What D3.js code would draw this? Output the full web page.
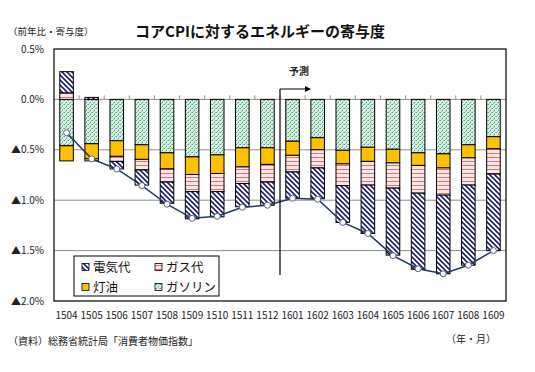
<!DOCTYPE html>
<html>
<head>
<meta charset="utf-8">
<script src="https://cdn.jsdelivr.net/npm/d3@7"></script>
<style>
  body { margin: 0; background: #fff; }
  svg { display: block; font-family: "Noto Sans CJK JP", "Noto Sans", sans-serif; }
</style>
</head>
<body>
<div id="chart"></div>
<script>
var categories = ['1504', '1505', '1506', '1507', '1508', '1509', '1510', '1511', '1512',
  '1601', '1602', '1603', '1604', '1605', '1606', '1607', '1608', '1609'];
// contributions (%pt)
var electricity = [0.21, 0.02, -0.075, -0.15, -0.21, -0.27, -0.25, -0.23, -0.23,
  -0.26, -0.305, -0.365, -0.48, -0.665, -0.755, -0.78, -0.795, -0.76];
var gas = [0.065, -0.02, -0.05, -0.105, -0.13, -0.17, -0.18, -0.165, -0.175,
  -0.165, -0.18, -0.215, -0.235, -0.25, -0.275, -0.27, -0.27, -0.25];
var kerosene = [-0.15, -0.15, -0.155, -0.145, -0.16, -0.175, -0.185, -0.19, -0.165,
  -0.14, -0.12, -0.135, -0.14, -0.135, -0.125, -0.14, -0.13, -0.12];
var gasoline = [-0.46, -0.44, -0.41, -0.45, -0.53, -0.57, -0.55, -0.48, -0.48,
  -0.415, -0.38, -0.505, -0.475, -0.495, -0.53, -0.54, -0.45, -0.37];
var energyTotal = [-0.33, -0.59, -0.69, -0.855, -1.04, -1.18, -1.16, -1.07, -1.05,
  -0.98, -0.99, -1.22, -1.33, -1.55, -1.68, -1.73, -1.645, -1.50];
var yTicks = [0.5, 0, -0.5, -1.0, -1.5, -2.0];
var forecastStart = '1601';

(function () {
  var W = 535, H = 372;
  var pl = 54, pr = 506, pt = 49, pb = 301;

  var svg = d3.select('#chart').append('svg').attr('width', W).attr('height', H);
  var defs = svg.append('defs');

  // hatch patterns
  var pElec = defs.append('pattern').attr('id', 'p-elec').attr('patternUnits', 'userSpaceOnUse')
    .attr('width', 5).attr('height', 5);
  pElec.append('rect').attr('width', 5).attr('height', 5).attr('fill', '#fff');
  pElec.append('path').attr('d', 'M0,0L5,5M-1.25,3.75L1.25,6.25M3.75,-1.25L6.25,1.25')
    .attr('stroke', '#1f1f6b').attr('stroke-width', 1.6);

  var pGas = defs.append('pattern').attr('id', 'p-gas').attr('patternUnits', 'userSpaceOnUse')
    .attr('width', 4).attr('height', 4);
  pGas.append('rect').attr('width', 4).attr('height', 4).attr('fill', '#fde6e6');
  pGas.append('rect').attr('y', 1).attr('width', 4).attr('height', 1).attr('fill', '#e57373');

  var pGaso = defs.append('pattern').attr('id', 'p-gaso').attr('patternUnits', 'userSpaceOnUse')
    .attr('width', 4).attr('height', 4);
  pGaso.append('rect').attr('width', 4).attr('height', 4).attr('fill', '#d9f2e4');
  [[0, 0, '#4f9f7c'], [2, 2, '#4f9f7c'], [3, 0, '#86c6a8'], [1, 3, '#86c6a8'], [2, 1, '#a9d8c1']]
    .forEach(function (p) {
      pGaso.append('rect').attr('x', p[0]).attr('y', p[1]).attr('width', 1).attr('height', 1).attr('fill', p[2]);
    });

  var fills = { gasoline: 'url(#p-gaso)', kerosene: '#ffc000', gas: 'url(#p-gas)', electricity: 'url(#p-elec)' };

  var rows = categories.map(function (c, i) {
    return { cat: c, gasoline: gasoline[i], kerosene: kerosene[i], gas: gas[i], electricity: electricity[i] };
  });
  var keys = ['gasoline', 'kerosene', 'gas', 'electricity'];
  var series = d3.stack().keys(keys).offset(d3.stackOffsetDiverging)(rows);

  var x = d3.scaleBand().domain(categories).range([pl, pr]).paddingInner(0.46).paddingOuter(0.23);
  var y = d3.scaleLinear().domain([-2, 0.5]).range([pb, pt]);

  // gridlines
  svg.append('g').selectAll('line').data(yTicks.filter(function (d) { return d < 0.5 && d > -2; }))
    .enter().append('line')
    .attr('x1', pl).attr('x2', pr)
    .attr('y1', function (d) { return y(d); }).attr('y2', function (d) { return y(d); })
    .attr('stroke', '#8f8f8f').attr('stroke-width', 1);

  // small ticks on the zero line between categories
  var step = x.step();
  var gap = (step - x.bandwidth()) / 2;
  svg.append('g').selectAll('line').data(categories.slice(1)).enter().append('line')
    .attr('x1', function (d) { return x(d) - gap; })
    .attr('x2', function (d) { return x(d) - gap; })
    .attr('y1', y(0) - 4).attr('y2', y(0))
    .attr('stroke', '#8f8f8f');

  // bars
  svg.append('g').selectAll('g').data(series).enter().append('g')
    .attr('fill', function (d) { return fills[d.key]; })
    .selectAll('rect').data(function (d) { return d; }).enter().append('rect')
    .attr('x', function (d) { return x(d.data.cat); })
    .attr('width', x.bandwidth())
    .attr('y', function (d) { return y(Math.max(d[0], d[1])); })
    .attr('height', function (d) { return Math.abs(y(d[0]) - y(d[1])); })
    .attr('stroke', function (d) { return Math.abs(d[1] - d[0]) > 0.001 ? '#000' : 'none'; })
    .attr('stroke-width', 1);

  // frame
  svg.append('rect').attr('x', pl).attr('y', pt).attr('width', pr - pl).attr('height', pb - pt)
    .attr('fill', 'none').attr('stroke', '#000').attr('stroke-width', 1.2);

  // total line
  var line = d3.line()
    .x(function (d, i) { return x(categories[i]) + x.bandwidth() / 2; })
    .y(function (d) { return y(d); });
  svg.append('path').datum(energyTotal).attr('d', line)
    .attr('fill', 'none').attr('stroke', '#1f3864').attr('stroke-width', 1.5);
  svg.append('g').selectAll('circle').data(energyTotal).enter().append('circle')
    .attr('cx', function (d, i) { return x(categories[i]) + x.bandwidth() / 2; })
    .attr('cy', function (d) { return y(d); })
    .attr('r', 3).attr('fill', '#fff').attr('stroke', '#56657f').attr('stroke-width', 1);

  // forecast marker
  var fx = x(forecastStart) - gap;
  svg.append('line').attr('x1', fx).attr('x2', fx).attr('y1', 89).attr('y2', 275)
    .attr('stroke', '#000').attr('stroke-width', 1.2);
  svg.append('line').attr('x1', fx).attr('x2', fx + 27).attr('y1', 89).attr('y2', 89)
    .attr('stroke', '#000').attr('stroke-width', 1);
  svg.append('path').attr('d', 'M' + (fx + 31) + ',89l-6,-3v6z').attr('fill', '#000');
  svg.append('text').attr('x', fx + 19).attr('y', 75).attr('text-anchor', 'middle')
    .style('font-size', '10px').style('font-weight', 'bold').attr('fill', '#222').text('予測');

  // y labels
  svg.append('g').selectAll('text').data(yTicks).enter().append('text')
    .attr('x', 44).attr('y', function (d) { return y(d) + 3.5; })
    .attr('text-anchor', 'end').style('font-size', '10px').attr('fill', '#222')
    .text(function (d) { return (d < 0 ? '▲' : '') + Math.abs(d).toFixed(1) + '%'; });

  // x labels
  svg.append('g').selectAll('text').data(categories).enter().append('text')
    .attr('x', function (d) { return x(d) + x.bandwidth() / 2; })
    .attr('y', 319).attr('text-anchor', 'middle')
    .style('font-size', '10px').attr('fill', '#222').text(function (d) { return d; });

  // titles and notes
  svg.append('text').attr('x', 260).attr('y', 37).attr('text-anchor', 'middle')
    .style('font-size', '15px').style('font-weight', 'bold').attr('fill', '#111')
    .text('コアCPIに対するエネルギーの寄与度');
  svg.append('text').attr('x', 8).attr('y', 35).style('font-size', '9.5px').attr('fill', '#222')
    .text('（前年比・寄与度）');
  svg.append('text').attr('x', 8).attr('y', 345).style('font-size', '10px').attr('fill', '#222')
    .text('（資料）総務省統計局「消費者物価指数」');
  svg.append('text').attr('x', 496).attr('y', 343).attr('text-anchor', 'end').style('font-size', '10px').attr('fill', '#222')
    .text('（年・月）');

  // legend
  var legend = svg.append('g');
  legend.append('rect').attr('x', 74).attr('y', 256).attr('width', 145).attr('height', 40)
    .attr('fill', '#fff').attr('stroke', '#000').attr('stroke-width', 1);
  var legendItems = [
    { key: 'electricity', label: '電気代', lx: 82, ly: 267 },
    { key: 'gas', label: 'ガス代', lx: 155, ly: 267 },
    { key: 'kerosene', label: '灯油', lx: 82, ly: 287 },
    { key: 'gasoline', label: 'ガソリン', lx: 155, ly: 287 }
  ];
  legendItems.forEach(function (it) {
    legend.append('rect').attr('x', it.lx).attr('y', it.ly - 3.5).attr('width', 7).attr('height', 7)
      .attr('fill', fills[it.key]).attr('stroke', '#000').attr('stroke-width', 0.8);
    legend.append('text').attr('x', it.lx + 11).attr('y', it.ly + 4.5)
      .style('font-size', '12.5px').attr('fill', '#111').text(it.label);
  });
})();
</script>
</body>
</html>
